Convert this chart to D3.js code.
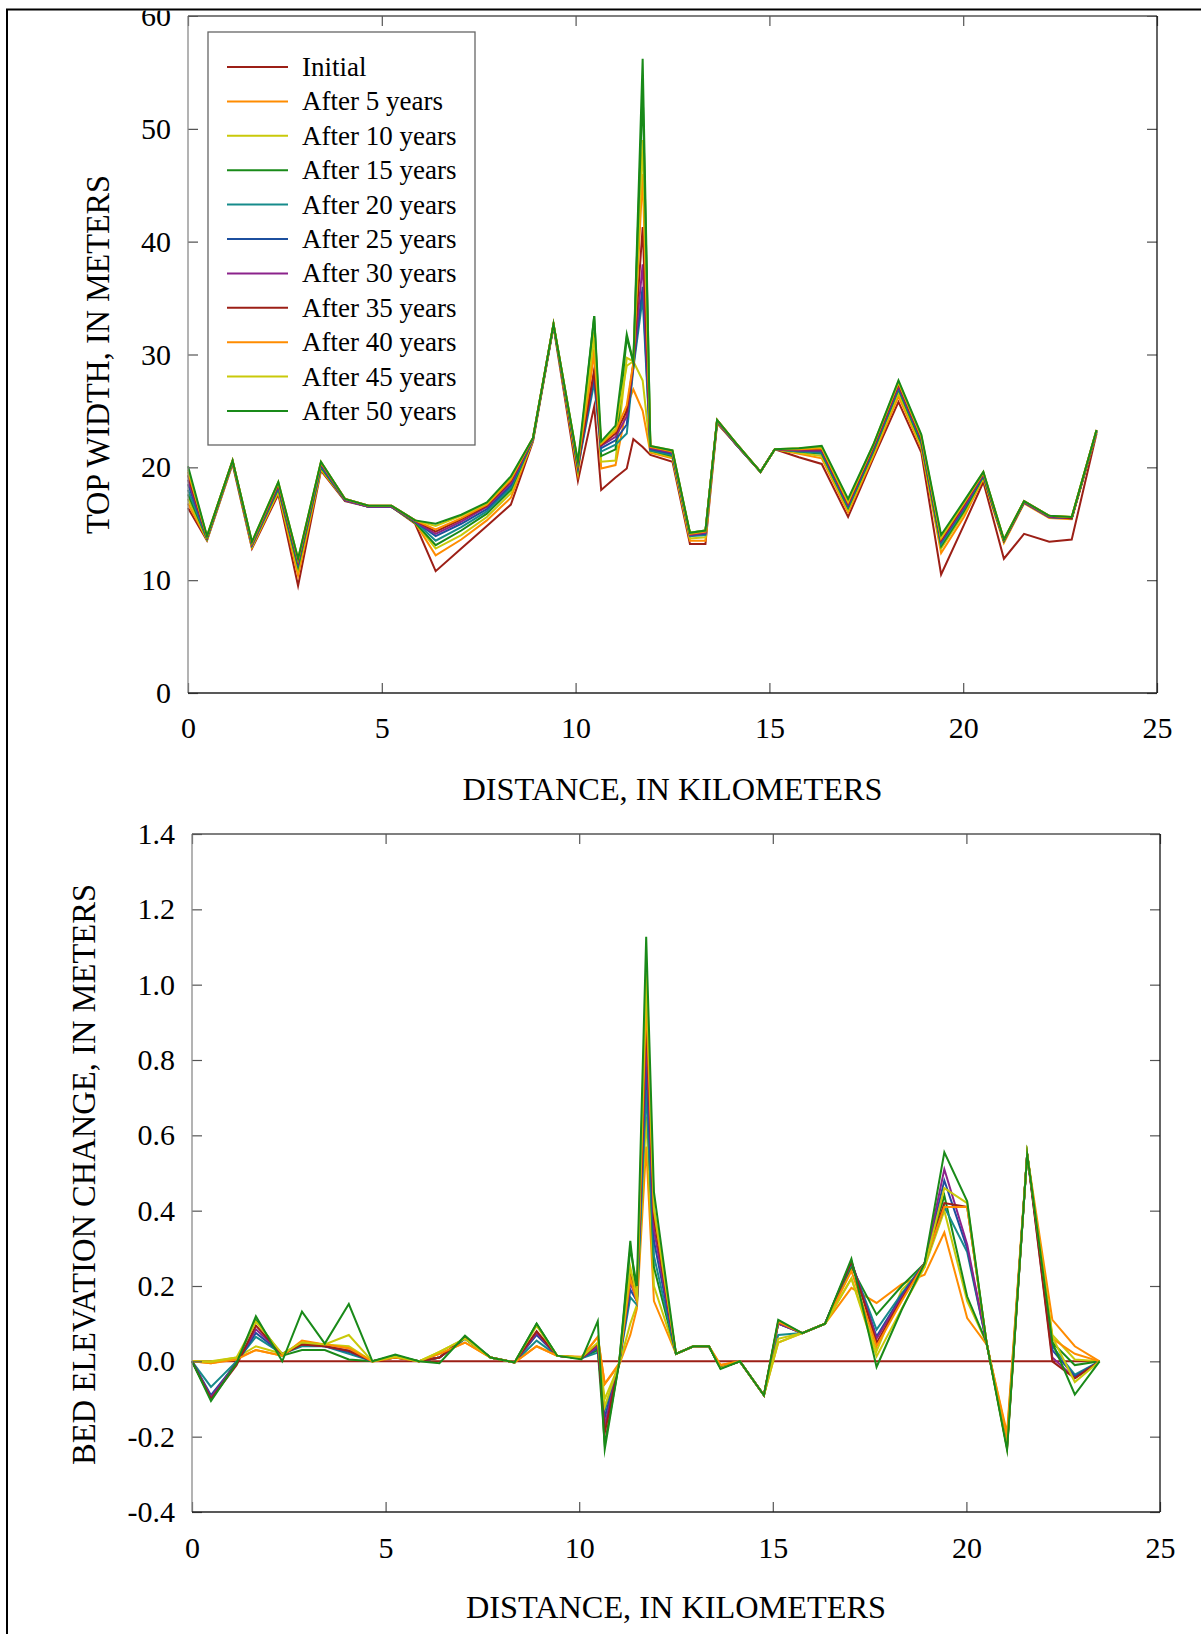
<!DOCTYPE html>
<html><head><meta charset="utf-8">
<script src="https://cdn.jsdelivr.net/npm/d3@7"></script>
<style>
body{margin:0;background:#fff}
svg{display:block}
text{font-family:"Liberation Serif","Times New Roman",serif;fill:#000}
</style>
</head><body>
<svg id="chart" width="1201" height="1634"></svg>
<script>
// ---------- DATA ----------
const distanceKm = [0, 0.49, 1.15, 1.65, 2.33, 2.84, 3.43, 4.05, 4.66, 5.25, 5.86, 6.39, 7.05, 7.71, 8.33, 8.9, 9.43, 10.06, 10.48, 10.66, 11.03, 11.32, 11.49, 11.73, 11.93, 12.5, 12.95, 13.35, 13.65, 14.15, 14.77, 15.14, 15.76, 16.35, 17.03, 17.68, 18.33, 18.92, 19.43, 20.02, 20.52, 21.05, 21.57, 22.22, 22.8, 23.44];

const seriesLabels = ["Initial", "After 5 years", "After 10 years", "After 15 years", "After 20 years", "After 25 years", "After 30 years", "After 35 years", "After 40 years", "After 45 years", "After 50 years"];

// Top width, meters
const widthInitial = [16.4, 13.5, 20.3, 12.8, 17.6, 9.5, 19.7, 17.0, 16.5, 16.5, 15.0, 10.8, 12.8, 14.8, 16.7, 22.3, 32.5, 18.8, 25.4, 18.0, 19.1, 19.9, 22.5, 21.8, 21.1, 20.5, 13.2, 13.2, 23.9, 22.0, 19.6, 21.6, 20.9, 20.3, 15.6, 20.8, 25.8, 21.3, 10.5, 14.9, 18.7, 11.9, 14.1, 13.4, 13.6, 23.0];
const width5 = [16.8, 13.6, 20.4, 12.9, 17.8, 10.4, 19.8, 17.1, 16.5, 16.5, 15.1, 12.2, 13.6, 15.3, 17.3, 22.4, 32.6, 19.4, 30.5, 19.9, 20.2, 25.4, 26.9, 25.0, 21.3, 20.8, 13.5, 13.5, 24.0, 22.0, 19.6, 21.6, 21.2, 20.8, 16.0, 21.0, 26.3, 21.7, 12.4, 15.6, 19.0, 13.3, 16.8, 15.5, 15.4, 23.1];
const width10 = [17.2, 13.6, 20.4, 13.0, 17.9, 10.9, 19.9, 17.1, 16.5, 16.5, 15.1, 12.8, 14.0, 15.6, 17.7, 22.4, 32.6, 19.7, 32.0, 20.5, 20.6, 29.7, 29.4, 27.7, 21.4, 20.9, 13.7, 13.8, 24.0, 22.0, 19.6, 21.6, 21.3, 21.0, 16.2, 21.2, 26.6, 21.9, 12.8, 15.9, 19.1, 13.4, 16.9, 15.6, 15.5, 23.1];
const width15 = [17.6, 13.7, 20.5, 13.1, 18.1, 11.2, 20.0, 17.1, 16.5, 16.5, 15.1, 13.1, 14.4, 15.9, 18.0, 22.5, 32.6, 19.9, 33.4, 21.0, 21.6, 31.5, 29.3, 56.2, 21.5, 21.0, 14.2, 14.4, 24.1, 22.0, 19.6, 21.6, 21.4, 21.2, 16.4, 21.4, 26.9, 22.1, 13.0, 16.1, 19.2, 13.5, 16.9, 15.6, 15.5, 23.2];
const width20 = [18.0, 13.7, 20.5, 13.1, 18.2, 11.4, 20.1, 17.1, 16.5, 16.5, 15.2, 13.5, 14.7, 16.1, 18.2, 22.5, 32.6, 20.0, 27.5, 21.4, 22.0, 23.0, 28.8, 35.0, 21.5, 21.1, 13.9, 14.0, 24.1, 22.0, 19.6, 21.6, 21.4, 21.3, 16.5, 21.5, 27.0, 22.3, 13.2, 16.3, 19.3, 13.5, 16.9, 15.6, 15.5, 23.2];
const width25 = [18.5, 13.8, 20.5, 13.2, 18.3, 11.5, 20.2, 17.1, 16.5, 16.5, 15.2, 13.9, 15.0, 16.3, 18.4, 22.5, 32.6, 20.1, 28.0, 21.7, 22.4, 23.8, 29.0, 36.0, 21.6, 21.2, 14.0, 14.1, 24.1, 22.0, 19.6, 21.6, 21.5, 21.4, 16.6, 21.6, 27.1, 22.4, 13.4, 16.4, 19.3, 13.5, 16.9, 15.6, 15.5, 23.2];
const width30 = [18.9, 13.8, 20.5, 13.2, 18.4, 11.6, 20.3, 17.1, 16.5, 16.5, 15.2, 14.1, 15.2, 16.5, 18.6, 22.5, 32.6, 20.2, 28.5, 21.9, 22.7, 24.5, 29.1, 38.0, 21.7, 21.3, 14.0, 14.2, 24.1, 22.0, 19.6, 21.6, 21.5, 21.5, 16.7, 21.7, 27.2, 22.5, 13.5, 16.5, 19.4, 13.5, 16.9, 15.6, 15.5, 23.2];
const width35 = [19.3, 13.8, 20.6, 13.3, 18.5, 11.7, 20.4, 17.2, 16.6, 16.6, 15.3, 14.3, 15.4, 16.6, 18.8, 22.6, 32.7, 20.3, 28.6, 22.0, 23.0, 25.0, 29.2, 41.3, 21.8, 21.4, 14.1, 14.3, 24.2, 22.1, 19.6, 21.6, 21.6, 21.6, 16.8, 21.8, 27.4, 22.6, 13.6, 16.7, 19.5, 13.5, 17.0, 15.7, 15.5, 23.3];
const width40 = [19.6, 13.9, 20.6, 13.3, 18.6, 11.8, 20.4, 17.2, 16.6, 16.6, 15.3, 14.5, 15.5, 16.7, 18.9, 22.6, 32.7, 20.4, 30.0, 22.1, 23.2, 25.5, 29.3, 46.0, 21.8, 21.4, 14.1, 14.3, 24.2, 22.1, 19.6, 21.6, 21.6, 21.7, 16.9, 21.9, 27.5, 22.7, 13.7, 16.8, 19.5, 13.6, 17.0, 15.7, 15.6, 23.3];
const width45 = [19.8, 13.9, 20.6, 13.4, 18.7, 11.9, 20.5, 17.2, 16.6, 16.6, 15.3, 14.8, 15.7, 16.8, 19.1, 22.6, 32.7, 20.5, 31.5, 22.2, 23.4, 29.0, 29.4, 49.0, 21.9, 21.5, 14.2, 14.4, 24.2, 22.1, 19.6, 21.6, 21.7, 21.8, 17.0, 22.0, 27.6, 22.8, 13.8, 16.9, 19.6, 13.6, 17.0, 15.7, 15.6, 23.3];
const width50 = [20.1, 13.9, 20.6, 13.4, 18.7, 11.9, 20.5, 17.2, 16.6, 16.6, 15.3, 15.0, 15.8, 16.9, 19.2, 22.6, 32.7, 20.5, 33.4, 22.3, 23.7, 31.8, 29.3, 53.5, 21.9, 21.5, 14.2, 14.4, 24.2, 22.1, 19.6, 21.6, 21.7, 21.9, 17.2, 22.0, 27.7, 22.9, 14.0, 17.0, 19.6, 13.6, 17.0, 15.7, 15.6, 23.3];

// Bed elevation change, meters
const bedInitial = [0, 0, 0, 0, 0, 0, 0, 0, 0, 0, 0, 0, 0, 0, 0, 0, 0, 0, 0, 0, 0, 0, 0, 0, 0, 0, 0, 0, 0, 0, 0, 0, 0, 0, 0, 0, 0, 0, 0, 0, 0, 0, 0, 0, 0, 0];
const bed5 = [0, -0.005, 0.008, 0.03, 0.015, 0.05, 0.045, 0.035, 0.0, 0.01, 0.0, 0.02, 0.05, 0.01, -0.003, 0.04, 0.015, 0.012, 0.065, -0.06, -0.01, 0.07, 0.14, 0.57, 0.16, 0.02, 0.04, 0.04, -0.01, 0.0, -0.09, 0.05, 0.075, 0.1, 0.195, 0.155, 0.205, 0.23, 0.342, 0.115, 0.045, -0.19, 0.55, 0.11, 0.04, 0];
const bed10 = [0, 0.0, 0.01, 0.04, 0.02, 0.05, 0.045, 0.04, 0.0, 0.012, 0.0, 0.025, 0.06, 0.01, -0.003, 0.095, 0.015, 0.01, 0.04, -0.1, -0.01, 0.1, 0.15, 0.65, 0.2, 0.02, 0.04, 0.04, -0.015, 0.0, -0.09, 0.05, 0.075, 0.1, 0.22, 0.027, 0.19, 0.25, 0.4, 0.16, 0.05, -0.21, 0.55, 0.07, 0.005, 0];
const bed15 = [0, -0.1, 0.0, 0.11, 0.015, 0.03, 0.03, 0.005, 0.0, 0.015, 0.0, 0.01, 0.06, 0.01, -0.003, 0.1, 0.015, 0.008, 0.03, -0.22, -0.005, 0.32, 0.16, 0.75, 0.25, 0.02, 0.04, 0.04, -0.018, 0.0, -0.09, 0.1, 0.075, 0.1, 0.25, 0.124, 0.2, 0.26, 0.44, 0.172, 0.05, -0.22, 0.55, 0.05, -0.01, 0];
const bed20 = [0, -0.068, 0.0, 0.065, 0.02, 0.04, 0.04, 0.02, 0.0, 0.015, 0.0, 0.01, 0.06, 0.01, -0.003, 0.055, 0.015, 0.008, 0.023, -0.13, -0.005, 0.17, 0.15, 0.72, 0.28, 0.02, 0.04, 0.04, -0.018, 0.0, -0.09, 0.07, 0.075, 0.1, 0.26, 0.084, 0.18, 0.26, 0.41, 0.29, 0.05, -0.22, 0.55, 0.04, -0.035, 0];
const bed25 = [0, -0.09, -0.005, 0.075, 0.02, 0.045, 0.04, 0.025, 0.0, 0.012, 0.0, 0.01, 0.062, 0.01, -0.003, 0.07, 0.015, 0.008, 0.035, -0.15, -0.005, 0.19, 0.16, 0.8, 0.32, 0.02, 0.04, 0.04, -0.018, 0.0, -0.09, 0.1, 0.075, 0.1, 0.265, 0.066, 0.175, 0.26, 0.48, 0.3, 0.05, -0.225, 0.55, 0.03, -0.04, 0];
const bed30 = [0, -0.095, -0.005, 0.085, 0.02, 0.045, 0.04, 0.028, 0.0, 0.01, 0.0, 0.01, 0.063, 0.01, -0.003, 0.075, 0.015, 0.008, 0.04, -0.17, -0.005, 0.21, 0.16, 0.86, 0.35, 0.02, 0.04, 0.04, -0.018, 0.0, -0.09, 0.1, 0.075, 0.1, 0.265, 0.06, 0.17, 0.26, 0.51, 0.31, 0.05, -0.225, 0.55, 0.01, -0.045, 0];
const bed35 = [0, -0.1, -0.01, 0.095, 0.018, 0.045, 0.04, 0.028, 0.0, 0.01, 0.0, 0.01, 0.063, 0.01, -0.003, 0.08, 0.015, 0.008, 0.047, -0.19, -0.005, 0.23, 0.17, 0.91, 0.38, 0.02, 0.04, 0.04, -0.018, 0.0, -0.09, 0.105, 0.075, 0.1, 0.265, 0.049, 0.165, 0.26, 0.42, 0.41, 0.05, -0.23, 0.55, 0.0, -0.045, 0];
const bed40 = [0, -0.005, 0.005, 0.03, 0.015, 0.055, 0.045, 0.035, 0.0, 0.01, 0.0, 0.02, 0.05, 0.01, -0.003, 0.04, 0.015, 0.01, 0.065, -0.06, -0.005, 0.22, 0.16, 0.96, 0.4, 0.02, 0.04, 0.04, -0.01, 0.0, -0.09, 0.105, 0.075, 0.1, 0.24, 0.04, 0.16, 0.26, 0.41, 0.41, 0.05, -0.2, 0.55, 0.06, 0.02, 0];
const bed45 = [0, -0.002, 0.01, 0.105, 0.02, 0.05, 0.045, 0.07, 0.0, 0.012, 0.0, 0.025, 0.06, 0.01, -0.003, 0.095, 0.015, 0.01, 0.05, -0.12, -0.005, 0.25, 0.17, 1.03, 0.41, 0.02, 0.04, 0.04, -0.018, 0.0, -0.09, 0.06, 0.075, 0.1, 0.22, 0.013, 0.14, 0.25, 0.46, 0.42, 0.05, -0.23, 0.55, 0.065, -0.055, 0];
const bed50 = [0, -0.105, -0.005, 0.12, 0.0, 0.132, 0.047, 0.152, 0.0, 0.018, 0.0, -0.005, 0.068, 0.01, -0.003, 0.1, 0.015, 0.005, 0.107, -0.233, -0.005, 0.3, 0.2, 1.127, 0.45, 0.02, 0.04, 0.04, -0.02, 0.0, -0.09, 0.11, 0.075, 0.1, 0.272, -0.015, 0.137, 0.26, 0.555, 0.425, 0.05, -0.235, 0.55, 0.05, -0.088, 0];

// Axis ticks
const xTickValues = [0, 5, 10, 15, 20, 25];
const xTickLabels = ["0", "5", "10", "15", "20", "25"];
const widthTickValues = [0, 10, 20, 30, 40, 50, 60];
const widthTickLabels = ["0", "10", "20", "30", "40", "50", "60"];
const bedTickValues = [-0.4, -0.2, 0.0, 0.2, 0.4, 0.6, 0.8, 1.0, 1.2, 1.4];
const bedTickLabels = ["-0.4", "-0.2", "0.0", "0.2", "0.4", "0.6", "0.8", "1.0", "1.2", "1.4"];

// ---------- STYLE ----------
const seriesColors = ["#9c1f16", "#ff8c00", "#c9c90a", "#198a19", "#168b8b", "#1c4f9e", "#8b238b", "#9c1f16", "#ff8c00", "#c9c90a", "#198a19"];
const FONT = "Liberation Serif, Times New Roman, serif";

const svg = d3.select("#chart");
svg.append("clipPath").attr("id", "pageClip")
  .append("rect").attr("x", 8).attr("y", 10.5).attr("width", 1201).attr("height", 1634);
const root = svg.append("g").attr("clip-path", "url(#pageClip)");

function drawPanel(p) {
  const x = d3.scaleLinear().domain([0, 25]).range([p.left, p.right]);
  const y = d3.scaleLinear().domain(p.yDomain).range([p.bottom, p.top]);
  const g = root.append("g");

  const line = d3.line().x((d, i) => x(distanceKm[i])).y(d => y(d));
  p.series.forEach((s, k) => {
    g.append("path").attr("d", line(s)).attr("fill", "none")
      .attr("stroke", seriesColors[k]).attr("stroke-width", 2)
      .attr("stroke-linejoin", "miter").attr("stroke-miterlimit", 10);
  });

  const styleAxis = sel => {
    sel.select(".domain").remove();
    sel.selectAll(".tick line").attr("stroke", "#555").attr("stroke-width", 1.2);
    sel.selectAll("text").attr("font-family", FONT).attr("font-size", 30).attr("fill", "#000");
    sel.attr("font-family", FONT).attr("font-size", 30);
  };

  g.append("g").attr("transform", `translate(0,${p.bottom})`)
    .call(d3.axisBottom(x).tickValues(xTickValues).tickFormat((d, i) => xTickLabels[i])
      .tickSizeInner(-10).tickSizeOuter(0).tickPadding(p.xPad))
    .call(styleAxis);
  g.append("g").attr("transform", `translate(0,${p.top})`)
    .call(d3.axisTop(x).tickValues(xTickValues).tickFormat("")
      .tickSizeInner(-10).tickSizeOuter(0))
    .call(styleAxis);
  g.append("g").attr("transform", `translate(${p.left},0)`)
    .call(d3.axisLeft(y).tickValues(p.yTicks).tickFormat((d, i) => p.yLabels[i])
      .tickSizeInner(-10).tickSizeOuter(0).tickPadding(17))
    .call(styleAxis);
  g.append("g").attr("transform", `translate(${p.right},0)`)
    .call(d3.axisRight(y).tickValues(p.yTicks).tickFormat("")
      .tickSizeInner(-10).tickSizeOuter(0))
    .call(styleAxis);

  // frame
  const fr = g.append("g").attr("fill", "none").attr("stroke-width", 1.3);
  fr.append("line").attr("x1", p.left).attr("x2", p.left).attr("y1", p.top).attr("y2", p.bottom).attr("stroke", "#8a8a8a");
  fr.append("line").attr("x1", p.left).attr("x2", p.right).attr("y1", p.top).attr("y2", p.top).attr("stroke", "#555");
  fr.append("line").attr("x1", p.right).attr("x2", p.right).attr("y1", p.top).attr("y2", p.bottom).attr("stroke", "#111");
  fr.append("line").attr("x1", p.left).attr("x2", p.right).attr("y1", p.bottom).attr("y2", p.bottom).attr("stroke", "#222");

  // titles
  g.append("text").attr("x", (p.left + p.right) / 2).attr("y", p.xTitleY)
    .attr("text-anchor", "middle").attr("dy", "0.35em")
    .attr("font-size", 32).attr("font-family", FONT)
    .attr("textLength", 420).attr("lengthAdjust", "spacingAndGlyphs")
    .text(p.xTitle);
  g.append("text").attr("transform", `translate(${p.yTitleX},${p.yTitleY}) rotate(-90)`)
    .attr("text-anchor", "middle").attr("dy", "0.35em")
    .attr("font-size", 33).attr("font-family", FONT)
    .attr("textLength", p.yTitleLen).attr("lengthAdjust", "spacingAndGlyphs")
    .text(p.yTitle);
  return g;
}

const topPanel = drawPanel({
  left: 188, right: 1157, top: 16, bottom: 693,
  yDomain: [0, 60], yTicks: widthTickValues, yLabels: widthTickLabels, xPad: 24,
  series: [widthInitial, width5, width10, width15, width20, width25, width30, width35, width40, width45, width50],
  xTitle: "DISTANCE, IN KILOMETERS", xTitleY: 789,
  yTitle: "TOP WIDTH, IN METERS", yTitleX: 97, yTitleY: 354.5, yTitleLen: 359
});

drawPanel({
  left: 192, right: 1160, top: 834, bottom: 1512,
  yDomain: [-0.4, 1.4], yTicks: bedTickValues, yLabels: bedTickLabels, xPad: 25,
  series: [bedInitial, bed5, bed10, bed15, bed20, bed25, bed30, bed35, bed40, bed45, bed50],
  xTitle: "DISTANCE, IN KILOMETERS", xTitleY: 1607,
  yTitle: "BED ELEVATION CHANGE, IN METERS", yTitleX: 83, yTitleY: 1174.5, yTitleLen: 581
});

// legend (top panel)
const lg = topPanel.append("g");
lg.append("rect").attr("x", 208).attr("y", 32).attr("width", 267).attr("height", 413)
  .attr("fill", "#fff").attr("stroke", "#666").attr("stroke-width", 1.3);
seriesLabels.forEach((lab, k) => {
  const cy = 67 + k * 34.4;
  lg.append("line").attr("x1", 227).attr("x2", 288).attr("y1", cy).attr("y2", cy)
    .attr("stroke", seriesColors[k]).attr("stroke-width", 2);
  lg.append("text").attr("x", 302).attr("y", cy).attr("dy", "0.33em")
    .attr("font-size", 27).attr("font-family", FONT).text(lab);
});

// outer page frame
svg.append("path").attr("d", "M7,1634 V9.5 H1201").attr("fill", "none")
  .attr("stroke", "#000").attr("stroke-width", 2);
</script>
</body></html>
